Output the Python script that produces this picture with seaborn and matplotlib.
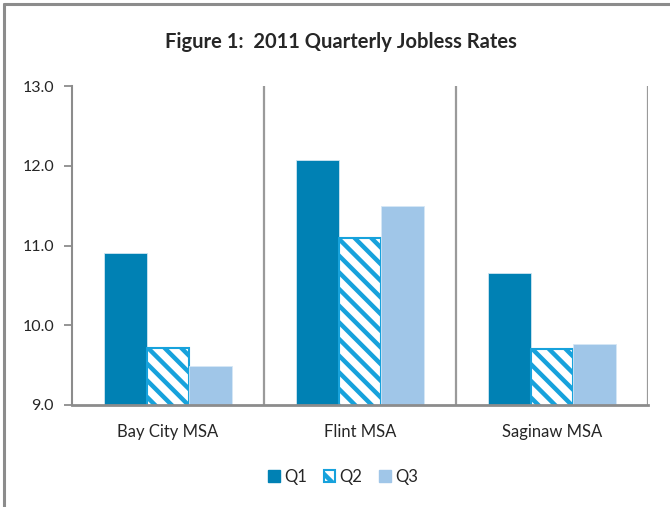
import matplotlib
matplotlib.use("Agg")
import matplotlib.pyplot as plt
from matplotlib.lines import Line2D
from matplotlib.patches import Patch
import pandas as pd
import seaborn as sns

areas = ["Bay City MSA", "Flint MSA", "Saginaw MSA"]
quarters = ["Q1", "Q2", "Q3"]
q1 = [10.90, 12.07, 10.66]
q2 = [9.72, 11.09, 9.70]
q3 = [9.49, 11.50, 9.76]
yticks = [9.0, 10.0, 11.0, 12.0, 13.0]

df = pd.DataFrame({
    "area": areas * 3,
    "quarter": ["Q1"] * 3 + ["Q2"] * 3 + ["Q3"] * 3,
    "rate": q1 + q2 + q3,
})

sns.set_style("white")
plt.rcParams["font.family"] = ["Lato", "DejaVu Sans"]
plt.rcParams["hatch.linewidth"] = 3.2

dark = "#0081b4"
stripe = "#17a2dc"
light = "#a0c6e8"
grey = "#8c8c8c"

fig = plt.figure(figsize=(6.7, 5.07), dpi=100)
ax = fig.add_axes([72 / 670, 102 / 507, 576 / 670, 319 / 507])

sns.barplot(data=df, x="area", y="rate", hue="quarter", order=areas,
            hue_order=quarters, palette=[dark, "white", light],
            width=0.67, gap=0, saturation=1, ax=ax, legend=False)

for bar in ax.containers[0]:
    bar.set_edgecolor("#cfe6f2")
    bar.set_linewidth(0.6)
for bar in ax.containers[1]:
    bar.set_hatch("\\\\")
    bar.set_edgecolor(stripe)
    bar.set_linewidth(1.5)
for bar in ax.containers[2]:
    bar.set_edgecolor("#d5e7f6")
    bar.set_linewidth(0.6)

ax.set_ylim(9, 13)
ax.set_xlim(-0.5, 2.5)
ax.set_yticks(yticks)
ax.set_yticklabels([f"{v:.1f}" for v in yticks])
ax.set_xlabel("")
ax.set_ylabel("")
ax.tick_params(axis="y", left=True, length=6, width=1.3, color=grey,
               labelsize=11.5, pad=7, direction="out")
ax.tick_params(axis="x", bottom=False, labelsize=12, pad=10)

for side in ["top", "right"]:
    ax.spines[side].set_visible(False)
ax.spines["left"].set_color(grey)
ax.spines["left"].set_linewidth(1.5)
ax.spines["bottom"].set_color(grey)
ax.spines["bottom"].set_linewidth(2)
for x in [0.5, 1.5, 2.5]:
    ax.axvline(x, color="#9a9a9a", lw=1.6, zorder=0.5)

fig.text(0.509, 0.917, "Figure 1:  2011 Quarterly Jobless Rates",
         ha="center", va="center", fontsize=14.5, fontweight="bold")

handles = [
    Patch(facecolor=dark, edgecolor=dark),
    Patch(facecolor="white", edgecolor=stripe, hatch="\\\\", lw=1.5),
    Patch(facecolor=light, edgecolor=light),
]
fig.legend(handles, quarters, loc="center", bbox_to_anchor=(0.512, 0.059),
           ncol=3, frameon=False, fontsize=12, handlelength=0.7,
           handleheight=0.7, handletextpad=0.25, columnspacing=1.0)

# outer chart border (only top and left fall inside the image)
fig.add_artist(Line2D([4 / 670, 4 / 670], [0, 1 - 4 / 507],
                      transform=fig.transFigure, color=grey, lw=2.2))
fig.add_artist(Line2D([4 / 670, 1], [1 - 4 / 507, 1 - 4 / 507],
                      transform=fig.transFigure, color=grey, lw=2.2))

fig.savefig("out.png", dpi=100)
